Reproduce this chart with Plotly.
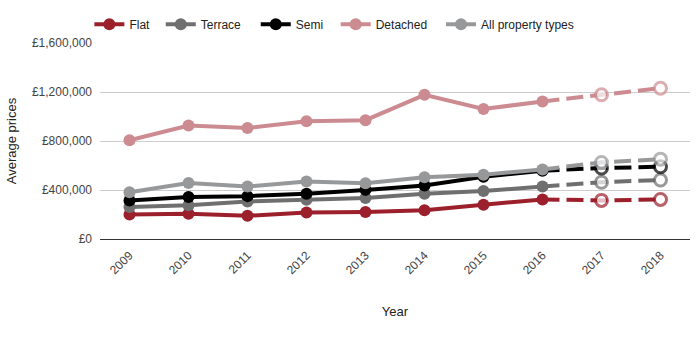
import plotly.graph_objects as go

# Average house prices by property type; 2017 and 2018 are projections
years = ["2009", "2010", "2011", "2012", "2013", "2014", "2015", "2016", "2017", "2018"]
n_actual = 8  # 2009-2016 are recorded, the rest projected

flat = [200000, 207000, 190000, 216000, 221000, 234000, 280000, 323000, 315000, 323000]
terrace = [261000, 275000, 307000, 321000, 334000, 369000, 391000, 428000, 463000, 482000]
semi = [315000, 342000, 350000, 369000, 401000, 436000, 509000, 558000, 579000, 590000]
detached = [806000, 927000, 907000, 962000, 970000, 1177000, 1061000, 1123000, 1177000, 1231000]
all_types = [382000, 458000, 428000, 469000, 455000, 504000, 525000, 568000, 625000, 652000]

series = [
    ("Flat", flat, "#9c1f2c"),
    ("Terrace", terrace, "#6f6f6f"),
    ("Semi", semi, "#000000"),
    ("Detached", detached, "#cc8b91"),
    ("All property types", all_types, "#97989a"),
]

y_ticks = [0, 400000, 800000, 1200000, 1600000]
y_labels = ["£{:,}".format(v) for v in y_ticks]

# one legend box per series so the entries sit at their own offsets
legend_x = [-0.018, 0.103, 0.264, 0.3995, 0.578]

fig = go.Figure()
for i, (name, vals, color) in enumerate(series):
    leg = "legend" if i == 0 else "legend%d" % (i + 1)
    # recorded years: solid line, filled markers
    fig.add_trace(go.Scatter(
        x=years[:n_actual], y=vals[:n_actual], name=name, mode="lines+markers",
        line=dict(color=color, width=4),
        marker=dict(color=color, size=12),
        legendgroup=name, legend=leg,
    ))
    # projected years: dashed line, hollow markers
    fig.add_trace(go.Scatter(
        x=years[n_actual - 1:], y=vals[n_actual - 1:], name=name, mode="lines+markers",
        line=dict(color=color, width=4, dash="17px,7px"),
        marker=dict(color=["rgba(0,0,0,0)"] + ["white"] * (len(years) - n_actual),
                    size=[0] + [12] * (len(years) - n_actual),
                    line=dict(color=color, width=3)),
        legendgroup=name, legend=leg, showlegend=False,
    ))

legend_style = dict(orientation="h", xanchor="left", y=1.096, yanchor="middle",
                    font=dict(size=12, color="#222222"), itemwidth=30,
                    bgcolor="rgba(0,0,0,0)")
legends = {}
for i, lx in enumerate(legend_x):
    key = "legend" if i == 0 else "legend%d" % (i + 1)
    legends[key] = dict(legend_style, x=lx)

fig.update_layout(
    width=700, height=340,
    margin=dict(l=100, r=10, t=41, b=101),
    paper_bgcolor="white", plot_bgcolor="white",
    font=dict(family="Liberation Sans, Arial, sans-serif", size=12, color="#444444"),
    showlegend=True,
    xaxis=dict(
        type="category", categoryorder="array", categoryarray=years,
        range=[-0.5, len(years) - 0.5], tickangle=-45,
        showgrid=False, showline=False, zeroline=False,
        ticklabelstandoff=6,
        tickfont=dict(size=12, color="#444444"),
        title=dict(text="Year", font=dict(size=13, color="#222222"), standoff=30),
    ),
    yaxis=dict(
        range=[0, 1600000], tickvals=y_ticks, ticktext=y_labels,
        showgrid=True, gridcolor="#cccccc", gridwidth=1,
        zeroline=True, zerolinecolor="#333333", zerolinewidth=1,
        showline=False, ticklabelstandoff=7,
        tickfont=dict(size=12, color="#444444"),
        title=dict(text="Average prices", font=dict(size=13, color="#222222"), standoff=12),
    ),
    **legends,
)

fig.write_html("out.html")
